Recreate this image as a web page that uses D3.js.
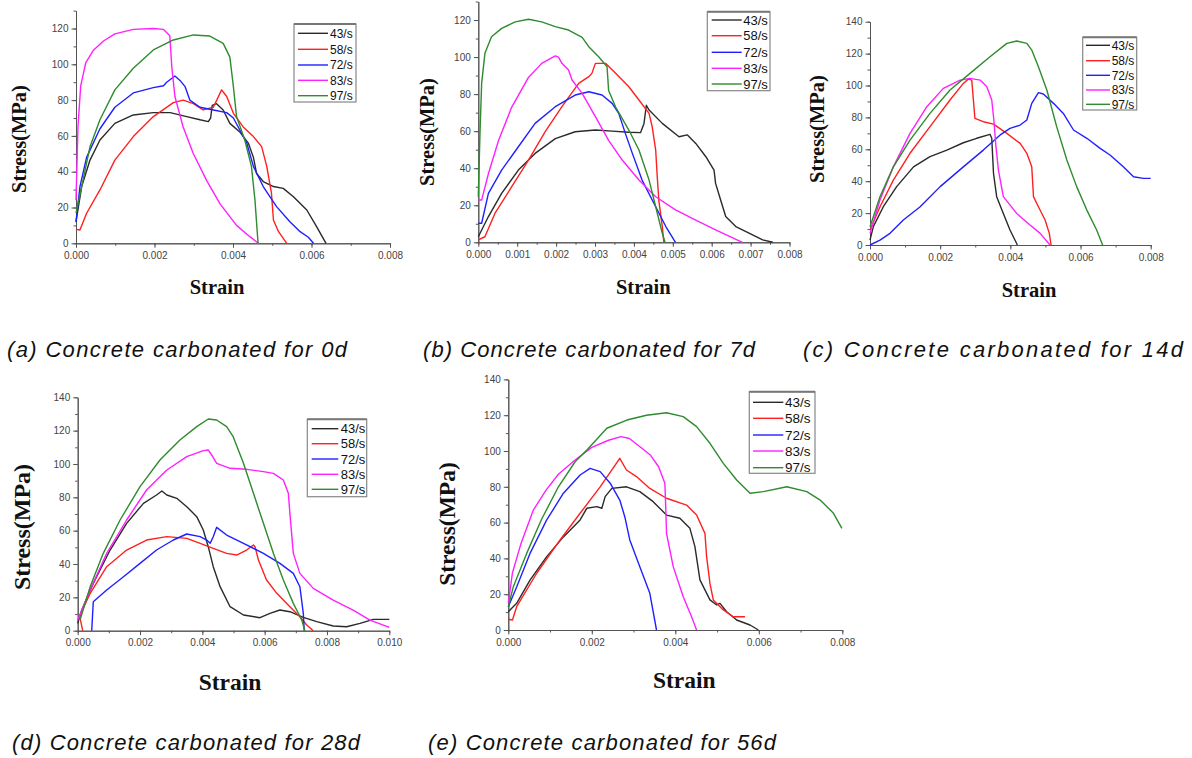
<!DOCTYPE html>
<html><head><meta charset="utf-8">
<script src="https://cdn.jsdelivr.net/npm/d3@7"></script>
<style>body{margin:0;background:#fff}svg{display:block}</style>
</head><body>
<svg id="c" width="1192" height="758"></svg>
<script>
// ---------- data ----------
const rates = ["43/s","58/s","72/s","83/s","97/s"];
const captions = ["(a) Concrete carbonated for 0d","(b) Concrete carbonated for 7d","(c) Concrete carbonated for 14d","(d) Concrete carbonated for 28d","(e) Concrete carbonated for 56d"];
const yLabel = "Stress(MPa)";
const xLabel = "Strain";

// (a) 0d
const a43 = [[0,12],[0.000144,31.7],[0.000357,46.5],[0.00061,57.7],[0.00099,67],[0.00146,71.7],[0.00197,73],[0.0024,73],[0.00282,70.8],[0.00316,69],[0.00337,68],[0.00343,70],[0.00347,77],[0.00358,78],[0.00375,74.5],[0.00392,67],[0.00418,62],[0.00439,56],[0.00452,48],[0.0046,39],[0.00477,34.5],[0.00503,31.7],[0.00528,30.7],[0.00554,26],[0.00588,18.6],[0.00613,9.3],[0.00637,0]];
const a58 = [[0,7.8],[0.0001,7.4],[0.00027,16.8],[0.00061,29.8],[0.00099,46.5],[0.00146,59.6],[0.00197,70.8],[0.00248,78.6],[0.00273,80],[0.00299,78],[0.00324,74.5],[0.0035,76],[0.00371,85.7],[0.00384,82],[0.00401,72.6],[0.00426,65],[0.00452,59.6],[0.00473,54],[0.00486,43],[0.00498,28],[0.00503,13],[0.00516,6.5],[0.00537,0]];
const a72 = [[0,12],[0.0001,31.7],[0.00027,48],[0.00061,64],[0.00099,76],[0.00146,84],[0.00197,87],[0.00223,88],[0.00231,90],[0.00252,93.5],[0.00265,91],[0.00278,87.5],[0.0029,80],[0.00316,76],[0.0035,74.5],[0.00384,73],[0.00401,70],[0.00418,63],[0.00435,56],[0.00452,43],[0.00477,31.7],[0.00511,20.5],[0.00545,12],[0.00571,6.5],[0.00592,3.4],[0.00605,0]];
const a83 = [[0,24],[0.00005,65],[0.00012,88],[0.00025,101],[0.00045,108],[0.0007,113],[0.00099,117],[0.00146,119.5],[0.00197,120],[0.00223,119.5],[0.00239,116],[0.00244,98.7],[0.00252,82],[0.00273,65],[0.00299,50],[0.00333,35],[0.00367,22],[0.00409,10],[0.00443,3.7],[0.00465,0]];
const a97 = [[0,16.8],[0.000144,31.7],[0.000357,54],[0.00061,69],[0.00099,85.7],[0.00146,97.8],[0.00197,108],[0.00248,113.6],[0.00299,116.4],[0.00341,115.8],[0.00375,111.7],[0.00392,104],[0.00401,87.5],[0.00409,70.8],[0.0043,57.7],[0.00447,43],[0.00456,24],[0.00462,5.6],[0.00464,0]];

// (b) 7d
const b43 = [[0,3],[0.00026,13.9],[0.0006,26.4],[0.00103,39],[0.00146,48],[0.00198,56],[0.00249,59.7],[0.00301,60.6],[0.00344,60],[0.00387,59.4],[0.00417,59.2],[0.00426,64.2],[0.00432,74],[0.00439,71.4],[0.00473,64.2],[0.00516,57],[0.00537,58],[0.00559,53.4],[0.00585,46.2],[0.00606,39],[0.0061,31.8],[0.00623,22.8],[0.00636,13.9],[0.00662,8.5],[0.00696,4.9],[0.00731,1.3],[0.00757,0]];
const b58 = [[0,1.3],[0.00017,3],[0.00043,15.7],[0.00086,30],[0.00129,44.4],[0.00172,59.7],[0.00215,73.2],[0.00258,85.8],[0.00284,89.4],[0.00292,91.2],[0.00301,96.6],[0.00327,96.6],[0.00353,91.2],[0.00387,84],[0.00413,76.8],[0.00439,69.6],[0.00447,62.4],[0.00456,49.8],[0.0046,35.4],[0.00464,22.8],[0.00473,8.5],[0.00477,0]];
const b72 = [[0,10.3],[0.000086,10.3],[0.00026,26.4],[0.0006,39],[0.00103,51.6],[0.00146,64.2],[0.00198,73.2],[0.00249,79.5],[0.00284,81.3],[0.00318,79.5],[0.00344,75],[0.00361,69.6],[0.00378,58.8],[0.00396,48],[0.00421,33.6],[0.00456,19.2],[0.00482,8.5],[0.00503,1.3],[0.00507,0]];
const b83 = [[0,22.8],[0.000086,22.8],[0.00026,37],[0.00052,55],[0.00086,73],[0.00129,89],[0.00163,96.6],[0.00198,100.6],[0.00206,100],[0.00215,96.6],[0.00232,93],[0.00241,87.6],[0.00267,80.4],[0.00301,67.8],[0.00335,55],[0.0037,44.4],[0.00413,33.6],[0.00456,24.6],[0.00507,17.5],[0.00559,12],[0.0061,6.7],[0.00679,0]];
const b97 = [[0,24.6],[0.000043,58.8],[0.000086,85.8],[0.00017,102],[0.00034,111],[0.0006,115.5],[0.00095,119],[0.00129,120.4],[0.00163,119],[0.00198,116.4],[0.00232,114.6],[0.00267,110.6],[0.00284,105.6],[0.0031,100],[0.00331,94.8],[0.00335,82],[0.00353,73],[0.00387,60.6],[0.00413,49.8],[0.00439,33.6],[0.00456,19.2],[0.00473,4.9],[0.0048,0]];

// (c) 14d
const c43 = [[0,3.1],[0.000095,11.5],[0.00038,24],[0.00076,36.6],[0.00124,49],[0.00171,55.4],[0.00219,59.5],[0.00266,64.1],[0.00304,66.9],[0.00342,69.4],[0.00347,66.9],[0.00352,44.9],[0.00361,30.3],[0.0038,19.8],[0.00399,9.4],[0.0042,0]];
const c58 = [[0,9.4],[0.000285,24],[0.000665,40.7],[0.00114,57.5],[0.00171,74.2],[0.00228,90.9],[0.00266,101.3],[0.0028,104],[0.0029,103.4],[0.00299,79.4],[0.00323,77.3],[0.00352,75.8],[0.0039,70],[0.00428,63.7],[0.00447,57.5],[0.00461,49],[0.00466,30.3],[0.0048,24],[0.00499,15.7],[0.00511,7.3],[0.00516,0]];
const c72 = [[0,0],[0.000285,3.1],[0.00057,7.3],[0.00095,15.7],[0.00143,24],[0.002,36.6],[0.00266,49],[0.00323,59.5],[0.00371,69],[0.00399,73.1],[0.00428,75.2],[0.00447,78.4],[0.00461,88.8],[0.0048,95.5],[0.00494,94.7],[0.00523,88.8],[0.00551,82.5],[0.0058,72.1],[0.00618,66.9],[0.00656,60.6],[0.00684,56.4],[0.00722,49],[0.00751,42.8],[0.00779,41.8],[0.008,41.8]];
const c83 = [[0,7.3],[0.000285,28.2],[0.000665,49],[0.00114,70],[0.00162,86.7],[0.00209,98.2],[0.00257,103.4],[0.00285,104.5],[0.00314,103.4],[0.00333,99.2],[0.00347,90.9],[0.00353,78.4],[0.00359,61.6],[0.00366,47],[0.0038,30.3],[0.00418,19.8],[0.00456,12.5],[0.00485,7.3],[0.00513,0]];
const c97 = [[0,11.5],[0.000285,30.3],[0.000665,49],[0.00114,65.8],[0.00171,82.5],[0.00228,97.2],[0.00285,107.6],[0.00342,118],[0.0039,126.4],[0.00418,127.9],[0.00447,126.4],[0.00461,122.2],[0.0048,111.8],[0.00504,97.2],[0.00532,74.2],[0.00561,53.3],[0.00589,36.6],[0.00618,21.9],[0.00646,9.4],[0.00663,0]];

// (d) 28d
const d43 = [[0,4.4],[0.00013,12.4],[0.0005,28.4],[0.00104,48.4],[0.00157,64.4],[0.00211,76.4],[0.00253,81.4],[0.0027,83.8],[0.00286,81.4],[0.00318,79.4],[0.0035,74.4],[0.00382,68.4],[0.00403,60.4],[0.00419,50.4],[0.00435,38.4],[0.00457,26.4],[0.00489,14.4],[0.00532,9.4],[0.00585,7.8],[0.00617,10.4],[0.00649,12.4],[0.00681,11.4],[0.00724,8],[0.00767,5.4],[0.0082,2.8],[0.00863,2.4],[0.00906,4.4],[0.00949,6.8],[0.01,6.8]];
const d58 = [[0.00016,0],[0.00006,9],[0.0004,22.4],[0.00093,38.4],[0.00157,48.4],[0.00221,54.4],[0.00286,56.4],[0.0035,55.4],[0.00393,52.4],[0.00435,49.4],[0.00478,46.4],[0.0051,45.4],[0.00542,48.4],[0.00564,51.4],[0.00569,50.4],[0.0058,42.4],[0.00606,30.4],[0.00639,22.4],[0.00681,14.4],[0.00713,8.4],[0.00735,3.4],[0.00756,0]];
const d72 = [[0.00045,0],[0.0005,17.4],[0.00093,24.4],[0.00147,32.4],[0.002,40.4],[0.00253,48.4],[0.00307,54.4],[0.0035,58],[0.00393,56.4],[0.00414,54.4],[0.00425,52.4],[0.00435,56.4],[0.00446,62],[0.00478,57.4],[0.00532,52.4],[0.00596,46.4],[0.00649,40.4],[0.00692,34.4],[0.00713,26.4],[0.00724,10.4],[0.00727,0]];
const d83 = [[0,6.4],[0.0004,24.4],[0.00093,46.4],[0.00157,66.4],[0.00221,84.4],[0.00286,96.4],[0.0035,104.4],[0.00403,108],[0.00419,108.4],[0.0043,105.4],[0.00446,100.4],[0.00489,97.4],[0.00542,96.8],[0.00596,95.4],[0.00628,94.4],[0.0066,90.4],[0.00676,82.4],[0.00681,70.4],[0.00692,46.4],[0.00713,34.4],[0.00756,25.4],[0.0082,18.4],[0.00884,12.4],[0.00938,6.4],[0.01,2]];
const d97 = [[0.000075,6.4],[0.0004,26.4],[0.00082,46.4],[0.00136,66.4],[0.002,86.4],[0.00264,102.4],[0.00328,114.4],[0.00382,122.4],[0.00419,127],[0.00446,126.4],[0.00478,122.4],[0.00499,116.4],[0.00532,100.4],[0.00564,82.4],[0.00596,64.4],[0.00628,46.4],[0.0066,30.4],[0.00692,16.4],[0.00719,6.4],[0.00729,0]];

// (e) 56d
const e43 = [[0,10.2],[0.0002,14.9],[0.00052,27.9],[0.00092,41],[0.00132,52],[0.00172,61.5],[0.00188,68],[0.00212,68.9],[0.00224,68],[0.00232,74.5],[0.00248,79.1],[0.00283,80],[0.00315,77.3],[0.00347,71.7],[0.00379,64.2],[0.00411,62.4],[0.00435,56.8],[0.00447,46.6],[0.00459,28],[0.00483,16.8],[0.00499,14],[0.00507,14.9],[0.00523,10.2],[0.00547,5.6],[0.00579,2.8],[0.00599,0]];
const e58 = [[0,6],[0.0001,5.6],[0.0002,13],[0.00068,31.7],[0.00124,50.3],[0.00172,65.2],[0.0022,80],[0.00267,95.9],[0.00283,89.4],[0.00307,85.7],[0.00339,79.1],[0.00379,73.6],[0.00427,69.8],[0.00451,64.2],[0.00471,54],[0.00475,41],[0.00483,26],[0.00491,16.8],[0.00515,11.2],[0.00539,7.4],[0.00567,7.4]];
const e72 = [[0,13],[0.0002,24],[0.00052,42.8],[0.00092,61.5],[0.00132,76.4],[0.00172,86.6],[0.00196,90.3],[0.0022,88.5],[0.00244,82],[0.00267,72.6],[0.00279,63.3],[0.00291,50.3],[0.00315,35.4],[0.00339,20.5],[0.00355,0]];
const e83 = [[0,15],[0.0001,32],[0.0003,48],[0.0006,67],[0.0009,78],[0.0012,87],[0.0016,95],[0.002,102],[0.0024,106],[0.0027,108],[0.0029,107],[0.0032,101.5],[0.0034,97.8],[0.0036,91.2],[0.00375,82],[0.00377,69],[0.00379,54],[0.00395,35.4],[0.00419,18.6],[0.00439,7.4],[0.00451,0]];
const e97 = [[0,13],[0.00012,24.2],[0.00044,42.8],[0.0008,62],[0.0012,80],[0.0016,94],[0.0019,101],[0.00236,112.7],[0.00284,117.3],[0.00331,120],[0.00379,121.4],[0.00419,119.2],[0.00451,113.6],[0.00483,104.3],[0.00515,93.1],[0.00547,83.8],[0.00579,76.4],[0.00611,77.3],[0.00667,80],[0.00715,77.3],[0.00747,72.6],[0.00779,65.2],[0.00799,56.8]];

// ---------- styling / layout ----------
const colors = ["#2a2a2a","#ff2020","#2020ff","#ff20ff","#2e8b2e"];

const panels = [
  {series:[a43,a58,a72,a83,a97], xMax:0.008, yMax:130, xStep:0.002, xMinor:0.001, yTop:120,
   px:[76,390], py:[243.3,10.6], leg:{box:[294,24,356,102], l:[298,328], t:330, ys:[33.3,49.3,65,80.3,95.7], fs:12},
   yl:[19,139,20.5], xl:[217,287,20.5], cap:[7,357,340]},
  {series:[b43,b58,b72,b83,b97], xMax:0.008, yMax:130, xStep:0.001, xMinor:0.0005, yTop:120,
   px:[478.3,789.5], py:[242.3,1.5], leg:{box:[707.3,11.7,770,90.7], l:[711.7,741.7], t:743.3, ys:[20,35.7,52.3,68.3,84], fs:13},
   yl:[427,132,20.5], xl:[643.3,287,20.5], cap:[423,357,332]},
  {series:[c43,c58,c72,c83,c97], xMax:0.008, yMax:140, xStep:0.002, xMinor:0.001, yTop:140,
   px:[870,1150.7], py:[245,21.7], leg:{box:[1082.7,37.3,1136.7,110], l:[1086,1110], t:1111.7, ys:[45.3,60.7,75.3,90,104.3], fs:12},
   yl:[817,129,20.5], xl:[1029,290,20.5], cap:[803,357,380]},
  {series:[d43,d58,d72,d83,d97], xMax:0.010, yMax:140, xStep:0.002, xMinor:0.001, yTop:140,
   px:[77.7,389.3], py:[630.7,397.3], leg:{box:[307.3,419.3,366.7,496.7], l:[311.7,338.3], t:340.7, ys:[428.7,443.7,459,474.3,489.3], fs:13},
   yl:[22,527,24], xl:[230,681.7,23.5], cap:[12,750,348]},
  {series:[e43,e58,e72,e83,e97], xMax:0.008, yMax:140, xStep:0.002, xMinor:0.001, yTop:140,
   px:[508.3,842.3], py:[630,379.4], leg:{box:[749.3,391.7,815,473.3], l:[753,783.3], t:785, ys:[402.3,418.3,435,451,467.7], fs:13.5},
   yl:[447,524,23.5], xl:[684.3,679.3,23.5], cap:[428,750,348]}
];

const svg = d3.select("#c");
const fmtX = d3.format(".3f");
const sans = "'Liberation Sans', Arial, sans-serif";
const serif = "'Liberation Serif', 'Times New Roman', serif";

panels.forEach((p, i) => {
  const x = d3.scaleLinear().domain([0, p.xMax]).range(p.px);
  const y = d3.scaleLinear().domain([0, p.yMax]).range(p.py);
  const g = svg.append("g");

  // minor ticks
  const xMinorVals = d3.range(0, p.xMax + 1e-9, p.xMinor);
  const yMinorVals = d3.range(0, p.yMax + 1e-9, 10);
  g.append("g").attr("transform", `translate(0,${p.py[0]})`)
    .call(d3.axisBottom(x).tickValues(xMinorVals).tickSize(2.5).tickFormat("").tickSizeOuter(0));
  g.append("g").attr("transform", `translate(${p.px[0]},0)`)
    .call(d3.axisLeft(y).tickValues(yMinorVals).tickSize(2.5).tickFormat("").tickSizeOuter(0));

  // major axes
  const xVals = d3.range(0, p.xMax + 1e-9, p.xStep);
  const yVals = d3.range(0, p.yTop + 1e-9, 20);
  const xa = g.append("g").attr("transform", `translate(0,${p.py[0]})`)
    .call(d3.axisBottom(x).tickValues(xVals).tickFormat(fmtX).tickSize(4.5).tickPadding(4).tickSizeOuter(0));
  const ya = g.append("g").attr("transform", `translate(${p.px[0]},0)`)
    .call(d3.axisLeft(y).tickValues(yVals).tickFormat(d3.format("d")).tickSize(4.5).tickPadding(3).tickSizeOuter(0));
  [xa, ya].forEach(a => {
    a.selectAll("text").attr("font-family", sans).attr("font-size", 10).attr("fill", "#444");
  });
  g.selectAll(".domain, .tick line").attr("stroke", "#555").attr("stroke-width", 1);

  // curves
  const line = d3.line().x(d => x(d[0])).y(d => y(d[1]));
  p.series.forEach((s, k) => {
    g.append("path").datum(s).attr("d", line)
      .attr("fill", "none").attr("stroke", colors[k]).attr("stroke-width", 1.4)
      .attr("stroke-linejoin", "round");
  });

  // legend
  const L = p.leg;
  g.append("rect").attr("x", L.box[0]).attr("y", L.box[1])
    .attr("width", L.box[2] - L.box[0]).attr("height", L.box[3] - L.box[1])
    .attr("fill", "#fff").attr("stroke", "#888").attr("stroke-width", 1.2);
  g.append("line").attr("x1", L.box[0]).attr("x2", L.box[2]).attr("y1", L.box[1]).attr("y2", L.box[1])
    .attr("stroke", "#777").attr("stroke-width", 2);
  rates.forEach((r, k) => {
    g.append("line").attr("x1", L.l[0]).attr("x2", L.l[1]).attr("y1", L.ys[k]).attr("y2", L.ys[k])
      .attr("stroke", colors[k]).attr("stroke-width", 1.4);
    g.append("text").attr("x", L.t).attr("y", L.ys[k]).attr("dy", "0.35em")
      .attr("font-family", sans).attr("font-size", L.fs)
      .attr("fill", "#111").text(r);
  });

  // axis titles
  g.append("text").attr("transform", `translate(${p.yl[0]},${p.yl[1]}) rotate(-90)`)
    .attr("text-anchor", "middle").attr("dy", "0.35em")
    .attr("font-family", serif).attr("font-weight", "bold")
    .attr("font-size", p.yl[2]).attr("fill", "#111").text(yLabel);
  g.append("text").attr("x", p.xl[0]).attr("y", p.xl[1]).attr("dy", "0.35em")
    .attr("text-anchor", "middle")
    .attr("font-family", serif).attr("font-weight", "bold")
    .attr("font-size", p.xl[2]).attr("fill", "#111").text(xLabel);

  // caption
  svg.append("text").attr("x", p.cap[0]).attr("y", p.cap[1])
    .attr("font-family", sans).attr("font-style", "italic")
    .attr("font-size", 22).attr("fill", "#111")
    .attr("textLength", p.cap[2]).attr("lengthAdjust", "spacing")
    .text(captions[i]);
});
</script>
</body></html>
